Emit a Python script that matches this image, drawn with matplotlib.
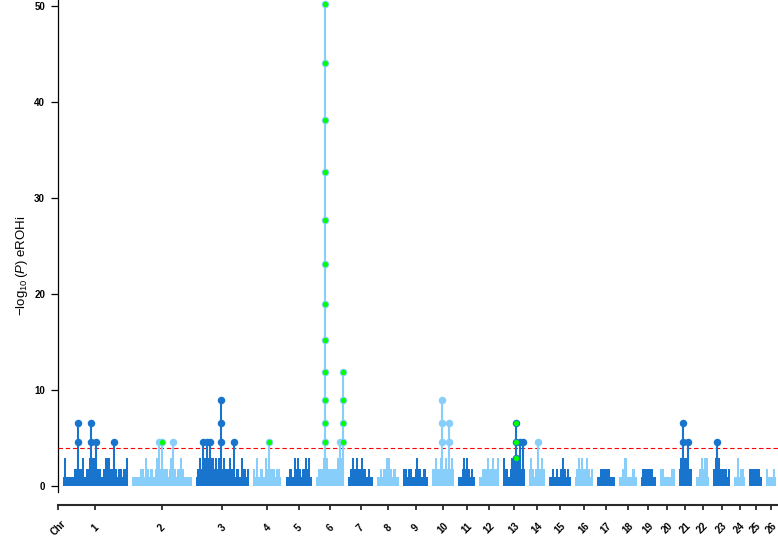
import matplotlib
matplotlib.use('Agg')
import matplotlib.pyplot as plt

plt.rcParams['font.family'] = ['Liberation Sans', 'DejaVu Sans']
plt.rcParams['mathtext.fontset'] = 'custom'
plt.rcParams['mathtext.rm'] = 'Liberation Sans'
plt.rcParams['mathtext.it'] = 'Liberation Sans:italic'

# ---------------- data ----------------
CHROMS = [str(i) for i in range(1, 27)]
CHR_LEN = [265, 240, 216, 114, 106, 114, 98, 90, 98, 90, 65, 81, 86,
           65, 86, 73, 73, 69, 61, 57, 53, 53, 65, 45, 49, 41]  # Mb
# discrete -log10(P) levels (index 0 = no signal)
LEVELS = [0.0, 0.9, 1.77, 2.95, 4.55, 6.6, 9.0, 11.85, 15.15, 18.9,
          23.1, 27.7, 32.7, 38.1, 44.0, 50.2]

# level index of each window along each chromosome
BINS_1 = [1, 3, 1, 1, 1, 1, 1, 2, 2, 3, 2, 2, 3, 1, 2, 2, 3, 3, 3, 3, 3, 2, 2, 1, 1, 2, 3, 3, 3, 2, 2, 2, 2, 1, 2, 2, 1, 2, 2, 3]
BINS_2 = [1, 1, 1, 1, 1, 2, 2, 1, 3, 2, 1, 2, 2, 1, 2, 3, 2, 2, 3, 2, 2, 2, 1, 2, 3, 2, 2, 1, 2, 2, 3, 2, 1, 1, 1, 1, 1]
BINS_3 = [1, 2, 3, 2, 3, 3, 3, 3, 2, 3, 3, 2, 3, 2, 3, 2, 2, 3, 2, 2, 2, 3, 2, 2, 1, 2, 2, 1, 3, 2, 2, 1, 2]
BINS_4 = [2, 1, 3, 1, 2, 2, 1, 3, 2, 3, 2, 2, 2, 1, 2, 2, 1]
BINS_5 = [1, 1, 2, 2, 1, 3, 2, 3, 2, 1, 2, 2, 3, 2, 3, 1]
BINS_6 = [1, 2, 2, 2, 3, 3, 3, 2, 2, 2, 2, 2, 2, 3, 3, 3, 2]
BINS_7 = [1, 2, 3, 2, 2, 3, 2, 2, 3, 2, 2, 1, 2, 1, 1]
BINS_8 = [1, 1, 2, 1, 2, 2, 3, 3, 2, 1, 2, 2, 1, 1]
BINS_9 = [2, 2, 1, 2, 2, 1, 1, 2, 3, 2, 2, 1, 2, 2, 1]
BINS_10 = [2, 2, 3, 2, 2, 3, 2, 2, 3, 2, 3, 2, 3, 2]
BINS_11 = [1, 1, 2, 3, 2, 3, 2, 1, 2, 1]
BINS_12 = [1, 1, 2, 2, 2, 3, 2, 2, 3, 2, 2, 3]
BINS_13 = [3, 2, 2, 1, 2, 3, 3, 3, 3, 3, 3, 2, 2]
BINS_14 = [2, 3, 2, 1, 2, 3, 2, 2, 3, 2]
BINS_15 = [1, 1, 2, 1, 2, 1, 1, 2, 3, 2, 1, 2, 1]
BINS_16 = [1, 2, 3, 2, 3, 2, 2, 3, 2, 1, 2]
BINS_17 = [1, 1, 2, 2, 2, 2, 2, 2, 1, 1, 1]
BINS_18 = [1, 1, 2, 3, 3, 1, 1, 1, 2, 2, 1]
BINS_19 = [1, 2, 2, 2, 2, 2, 2, 1, 1]
BINS_20 = [2, 2, 1, 1, 1, 1, 1, 2, 2]
BINS_21 = [2, 3, 3, 3, 3, 3, 2, 2]
BINS_22 = [1, 1, 2, 3, 2, 3, 3, 1]
BINS_23 = [2, 3, 3, 3, 2, 2, 2, 2, 1, 2]
BINS_24 = [1, 1, 3, 1, 2, 2, 1]
BINS_25 = [2, 2, 2, 2, 2, 2, 1]
BINS_26 = [2, 1, 1, 1, 2, 1]
BINS = [BINS_1, BINS_2, BINS_3, BINS_4, BINS_5, BINS_6, BINS_7, BINS_8, BINS_9,
        BINS_10, BINS_11, BINS_12, BINS_13, BINS_14, BINS_15, BINS_16, BINS_17,
        BINS_18, BINS_19, BINS_20, BINS_21, BINS_22, BINS_23, BINS_24, BINS_25, BINS_26]

# significant SNP stacks: chromosome, position (Mb), level indices, highlighted level indices
PEAK_CHR = [1, 1, 1, 1, 2, 2, 2, 3, 3, 3, 3, 3, 4, 6, 6, 6, 10, 10, 13, 13, 13, 14, 21, 21, 23]
PEAK_POS = [63, 114, 134, 206, 109, 119, 166, 31, 47, 57, 104, 156, 65, 37, 95, 111,
            39, 69, 51, 67, 79, 35, 18, 39, 12]
PEAK_LEV = [[4, 5], [4, 5], [4], [4], [4], [4], [4], [4], [4], [4], [4, 5, 6], [4], [4],
            [4, 5, 6, 7, 8, 9, 10, 11, 12, 13, 14, 15], [4], [4, 5, 6, 7],
            [4, 5, 6], [4, 5], [3, 4, 5], [4], [4], [4], [4, 5], [4], [4]]
PEAK_HL = [[], [], [], [], [], [4], [], [], [], [], [], [], [4],
           [4, 5, 6, 7, 8, 9, 10, 11, 12, 13, 14, 15], [], [4, 5, 6, 7],
           [], [], [3, 4, 5], [], [], [], [], [], []]

THRESHOLD = 4.0
DARK = '#1874CD'
LIGHT = '#87CEFA'
HL = '#00FF00'
GAP = 18

# ---------------- plot ----------------
fig = plt.figure(figsize=(7.78, 5.41), dpi=100)
ax = fig.add_axes([58 / 778, 36 / 541, 720 / 778, 505 / 541])

starts = []
s = 0
for L in CHR_LEN:
    starts.append(s)
    s += L + GAP
total_end = starts[-1] + CHR_LEN[-1]

centers = []
for k, (L, b) in enumerate(zip(CHR_LEN, BINS)):
    col = DARK if k % 2 == 0 else LIGHT
    n = len(b)
    xs = [starts[k] + (i + 0.5) * L / n for i in range(n)]
    hs = [LEVELS[v] for v in b]
    ax.vlines(xs, 0, hs, colors=col, linewidth=1.45, capstyle='butt', zorder=2)
    centers.append(starts[k] + L / 2)

ax.axhline(THRESHOLD, color='red', lw=0.8, dashes=(4, 2.5), zorder=3)

for c, p, lev, hl in zip(PEAK_CHR, PEAK_POS, PEAK_LEV, PEAK_HL):
    col = DARK if (c - 1) % 2 == 0 else LIGHT
    x = starts[c - 1] + p
    ax.vlines([x], 0, LEVELS[max(lev)], colors=col, linewidth=1.5, zorder=4)
    ax.plot([x] * len(lev), [LEVELS[v] for v in lev], 'o', ms=5.4, color=col,
            mew=0, zorder=5, clip_on=False)
    if hl:
        ax.plot([x] * len(hl), [LEVELS[v] for v in hl], 'o', ms=3.9, color=HL,
                mew=0, zorder=6, clip_on=False)

ax.set_xlim(-20, total_end + 8)
ax.set_ylim(-1.98, 50.6)

for sp in ['top', 'right']:
    ax.spines[sp].set_visible(False)
ax.spines['left'].set_bounds(-0.6, 50.6)
ax.spines['left'].set_linewidth(0.9)
ax.spines['bottom'].set_linewidth(1.5)
ax.spines['bottom'].set_color('#2a2a2a')

ax.set_yticks([0, 10, 20, 30, 40, 50])
ax.set_yticklabels(['0', '10', '20', '30', '40', '50'], fontsize=7, fontweight='bold')
ax.tick_params(axis='y', length=4.8, width=0.9, pad=4.5)

ax.set_xticks([-20] + centers)
ax.set_xticklabels(['Chr'] + CHROMS, fontsize=7, fontweight='bold', rotation=45)
ax.tick_params(axis='x', length=3.5, width=1.3, color='#2a2a2a', pad=13)
for t in ax.get_xticklabels():
    t.set_ha('center')
    t.set_va('center')
    t.set_rotation_mode('anchor')

fig.text(22 / 778, 1 - 266 / 541, r'$-\log_{10}(\mathit{P})$ eROHi', rotation=90,
         fontsize=9.5, ha='center', va='center')

fig.savefig('out.png', dpi=100)
